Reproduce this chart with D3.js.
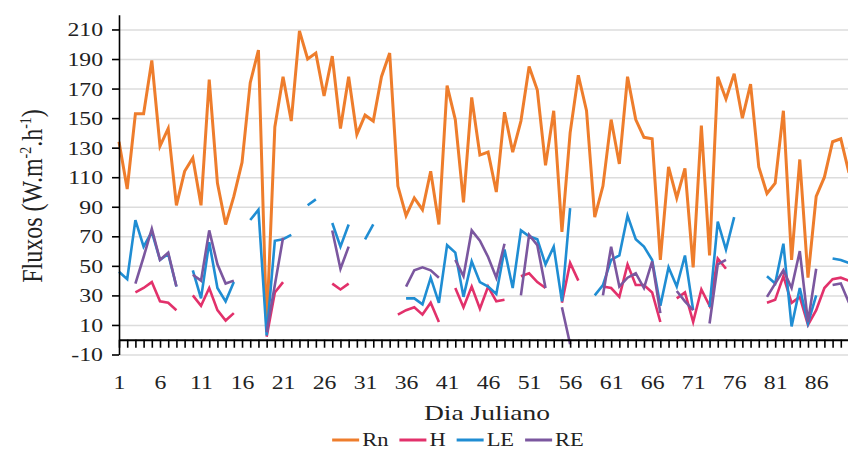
<!DOCTYPE html>
<html>
<head>
<meta charset="utf-8">
<script src="https://cdn.jsdelivr.net/npm/d3@7"></script>
<style>
  body { margin: 0; background: #fff; }
  svg { display: block; }
</style>
</head>
<body>
<svg width="848" height="455"></svg>
<script>
// dia juliano 1..90
var days = d3.range(1, 91);

var rn = [134, 102, 153, 153, 189, 131, 143, 91, 114, 123,
          91, 176, 106, 78, 97, 120, 174, 196, 8, 144,
          178, 148, 209, 190, 194, 165, 192, 143, 178, 139,
          152, 148, 178, 194, 104, 84, 96, 88, 114, 78,
          172, 149, 93, 164, 125, 127, 100, 154, 127, 148,
          185, 169, 118, 155, 73, 140, 179, 155, 83, 104,
          149, 119, 178, 149, 137, 136, 54, 117, 96, 116,
          49, 145, 57, 178, 163, 180, 150, 173, 117, 99,
          106, 155, 54, 122, 42, 97, 110, 134, 136, 113];

var h = [null, null, 32, 35, 39, 26, 25, 20, null, 30,
         23, 35, 20, 13, 18, null, null, null, 2, 32,
         39, null, null, null, null, null, 38, 34, 38, null,
         null, null, null, null, 17, 20, 22, 17, 25, 12,
         null, 35, 22, 36, 21, 36, 26, 27, null, 43,
         45, 39, 35, null, 25, 52, 40, null, null, 36,
         35, 29, 51, 37, 37, 32, 12, null, 28, 32,
         12, 34, 23, 55, 48, null, null, null, null, 25,
         27, 43, 25, 29, 10, 20, 35, 41, 42, 40];

var le = [46, 41, 81, 63, 73, 54, 58, 36, null, 47,
          28, 66, 35, 26, 39, null, 81, 88, 3, 67,
          68, 71, null, 91, 95, null, 79, 63, 78, null,
          68, 78, null, null, null, 28, 28, 24, 42, 25,
          64, 59, 29, 53, 39, 36, 31, 61, 35, 74,
          70, 68, 51, 63, 26, 89, null, null, 30, 37,
          54, 57, 84, 68, 63, 54, 23, 49, 36, 57,
          20, null, 22, 80, 61, 83, null, null, null, 43,
          38, 65, 9, 35, 11, 30, null, 55, 54, 52];

var re = [null, null, 38, 56, 75, 54, 59, 36, null, 44,
          40, 74, 51, 38, 40, null, null, null, 5, 37,
          69, null, null, null, null, null, 74, 48, 63, null,
          null, null, null, null, null, 36, 47, 49, 47, 42,
          null, 54, 43, 74, 67, 56, 42, 65, null, 30,
          71, 64, 35, null, 22, -3, null, null, null, 30,
          63, 36, 42, 45, 35, 53, 18, null, 33, 26,
          20, null, 11, 51, 54, null, null, null, null, 29,
          38, 47, 35, 60, 12, 48, null, 37, 38, 25];

var seriesNames = ["Rn", "H", "LE", "RE"];
var seriesColors = ["#ee7d2c", "#e2316b", "#1f8dd3", "#7b579f"];
var xTickLabels = [1, 6, 11, 16, 21, 26, 31, 36, 41, 46, 51, 56, 61, 66, 71, 76, 81, 86];
var yTickLabels = [-10, 10, 30, 50, 70, 90, 110, 130, 150, 170, 190, 210];

var serif = "'Liberation Serif', 'Times New Roman', serif";
var sx = 1.25; // the original figure is stretched sideways

var svg = d3.select("svg");

var x = d3.scaleLinear()
    .domain([1, 90])
    .range([119, 849]);

var y = d3.scaleLinear()
    .domain([-10, 220])
    .range([354.5, 14.7]);

// gridlines
var grid = svg.append("g")
    .attr("transform", "translate(119,0)")
    .call(d3.axisLeft(y).tickValues(yTickLabels).tickSize(-(849 - 119)).tickFormat(""));
grid.select(".domain").remove();
grid.selectAll("line").attr("stroke", "#dcdcdc").attr("stroke-width", 1.5);

// lines
var line = d3.line()
    .defined(function (d) { return d[1] != null; })
    .x(function (d) { return x(d[0]); })
    .y(function (d) { return y(d[1]); });

var allSeries = [rn, h, le, re];

svg.append("g")
    .selectAll("path")
    .data(allSeries)
    .enter()
    .append("path")
    .attr("fill", "none")
    .attr("stroke", function (d, i) { return seriesColors[i]; })
    .attr("stroke-width", function (d, i) { return i == 0 ? 3 : 2.6; })
    .attr("d", function (d) {
        return line(d.map(function (v, i) { return [days[i], v]; }));
    });

// y axis
var yAxis = svg.append("g")
    .attr("transform", "translate(119,0)")
    .call(d3.axisLeft(y).tickValues(yTickLabels).tickSize(7).tickSizeOuter(0)
        .tickFormat(function (d) { return String(d); }));
yAxis.select(".domain").attr("stroke", "#000").attr("stroke-width", 1.6);
yAxis.selectAll("line").attr("stroke", "#000").attr("stroke-width", 1.6);
yAxis.selectAll("text")
    .attr("font-size", 19)
    .attr("fill", "#222")
    .attr("x", -16 / sx)
    .attr("dy", "0.34em")
    .attr("transform", "scale(" + sx + ",1)");

// x axis on zero with daily ticks
var xAxis = svg.append("g")
    .attr("transform", "translate(0," + y(0) + ")")
    .call(d3.axisBottom(x).tickValues(days).tickSize(8).tickSizeOuter(0).tickFormat(""));
xAxis.select(".domain").attr("stroke", "#000").attr("stroke-width", 2);
xAxis.selectAll("line").attr("stroke", "#000").attr("stroke-width", 1.6);

// x tick labels below the plot
var xLabels = svg.append("g")
    .attr("transform", "translate(0,389)")
    .call(d3.axisBottom(x).tickValues(xTickLabels).tickSize(0).tickPadding(0));
xLabels.select(".domain").remove();
xLabels.selectAll("text")
    .attr("font-size", 19)
    .attr("fill", "#222")
    .attr("y", 0)
    .attr("dy", 0)
    .attr("transform", "scale(" + sx + ",1)");

// axis titles
svg.append("text")
    .attr("transform", "translate(487,420) scale(" + sx + ",1)")
    .attr("text-anchor", "middle")
    .attr("font-size", 22)
    .attr("fill", "#222")
    .text("Dia Juliano");

var yTitle = svg.append("text")
    .attr("transform", "translate(42,196) rotate(-90) scale(1," + sx + ")")
    .attr("text-anchor", "middle")
    .attr("font-size", 24)
    .attr("fill", "#222");
yTitle.append("tspan").text("Fluxos (W.m");
yTitle.append("tspan").attr("font-size", 14).attr("dy", -9).text("-2");
yTitle.append("tspan").attr("dy", 9).text(".h");
yTitle.append("tspan").attr("font-size", 14).attr("dy", -9).text("-1");
yTitle.append("tspan").attr("dy", 9).text(")");

// legend
var legend = svg.append("g");
var lx = 0;
var items = legend.selectAll("g")
    .data(seriesNames)
    .enter()
    .append("g");
items.append("line")
    .attr("x1", 0).attr("x2", 27)
    .attr("stroke", function (d, i) { return seriesColors[i]; })
    .attr("stroke-width", 3);
items.append("text")
    .attr("transform", "translate(30,0) scale(" + sx + ",1)")
    .attr("dy", "0.34em")
    .attr("font-size", 18)
    .attr("fill", "#222")
    .text(function (d) { return d; });
items.each(function () {
    var g = d3.select(this);
    g.attr("transform", "translate(" + lx + ",0)");
    lx += 30 + g.select("text").node().getComputedTextLength() * sx + 11;
});
legend.attr("transform", "translate(" + (458 - (lx - 11) / 2) + ",440)");

svg.selectAll("g").attr("font-family", null);
svg.selectAll("text").style("font-family", serif);
</script>
</body>
</html>
